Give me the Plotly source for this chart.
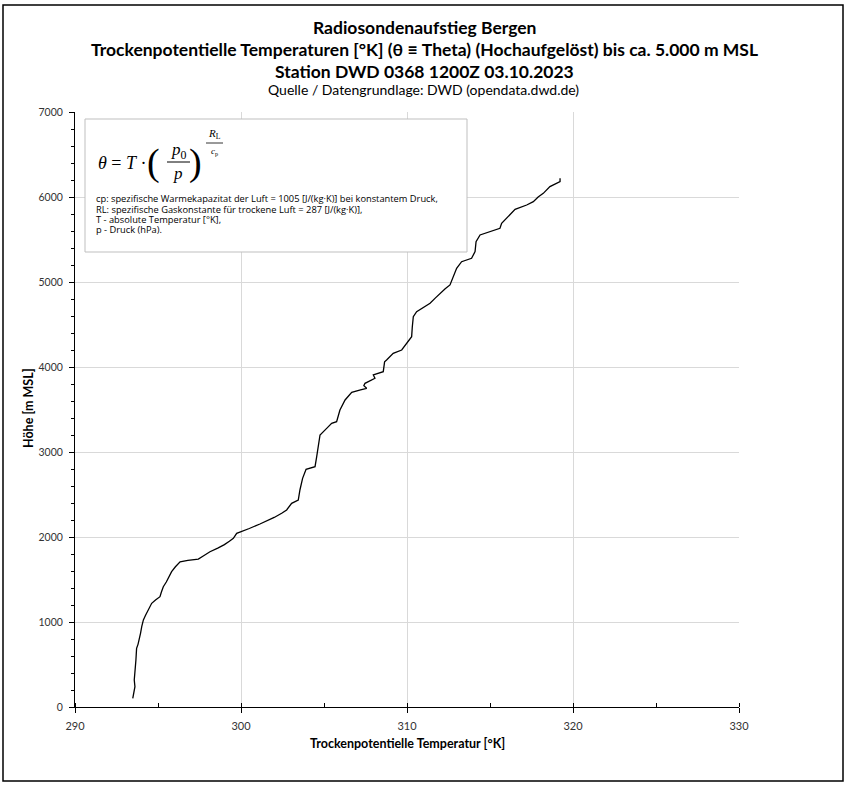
import plotly.graph_objects as go

# ---- data ----
hoehe_m = [102, 160, 239, 318, 400, 480, 553, 620, 690, 740, 788, 870, 945, 1024, 1080,
           1141, 1220, 1260, 1298, 1350, 1415, 1470, 1514, 1592, 1650, 1709, 1725, 1741,
           1780, 1827, 1870, 1910, 1950, 1984, 2043, 2063, 2100, 2153, 2188, 2230, 2280,
           2318, 2396, 2435, 2553, 2690, 2796, 2827, 2945, 3062, 3200, 3278, 3337, 3357,
           3420, 3494, 3612, 3702, 3730, 3749, 3780, 3808, 3867, 3906, 3945, 4000, 4060,
           4082, 4161, 4200, 4298, 4357, 4474, 4592, 4651, 4700, 4749, 4810, 4867, 4920,
           4965, 5063, 5161, 5239, 5279, 5357, 5474, 5553, 5590, 5632, 5690, 5788, 5855,
           5906, 5945, 6000, 6043, 6122, 6180, 6220]
theta_K = [293.48, 293.55, 293.61, 293.57, 293.62, 293.64, 293.67, 293.69, 293.71, 293.80,
           293.87, 293.95, 294.02, 294.12, 294.25, 294.42, 294.62, 294.85, 295.12, 295.20,
           295.32, 295.50, 295.62, 295.82, 296.05, 296.33, 296.80, 297.43, 297.75, 298.13,
           298.60, 299.00, 299.30, 299.54, 299.74, 300.04, 300.50, 301.14, 301.55, 302.00,
           302.45, 302.75, 303.05, 303.45, 303.55, 303.71, 303.92, 304.46, 304.56, 304.66,
           304.76, 305.16, 305.46, 305.76, 305.85, 305.96, 306.27, 306.67, 307.20, 307.57,
           307.40, 307.47, 308.07, 307.97, 308.57, 308.60, 308.65, 308.77, 309.17, 309.68,
           310.08, 310.28, 310.32, 310.38, 310.58, 311.00, 311.39, 311.70, 311.99, 312.30,
           312.59, 312.79, 312.99, 313.29, 313.89, 314.10, 314.16, 314.40, 315.00, 315.60,
           315.70, 316.20, 316.51, 317.21, 317.61, 317.90, 318.21, 318.61, 319.22, 319.22]

x_range = [290, 330]
y_range = [0, 7000]

title_lines = ["Radiosondenaufstieg Bergen",
               "Trockenpotentielle Temperaturen [°K] (θ ≡ Theta) (Hochaufgelöst) bis ca. 5.000 m MSL",
               "Station DWD 0368 1200Z 03.10.2023"]
subtitle = "Quelle / Datengrundlage: DWD (opendata.dwd.de)"
x_title = "Trockenpotentielle Temperatur [°K]"
y_title = "Höhe [m MSL]"
info_lines = ["cp: spezifische Warmekapazitat der Luft = 1005 [J/(kg·K)] bei konstantem Druck,",
              "RL: spezifische Gaskonstante für trockene Luft = 287 [J/(kg·K)],",
              "T - absolute Temperatur [°K],",
              "p - Druck (hPa)."]

# ---- layout geometry ----
W, H = 847, 785
L, R, T, B = 75, 739, 112, 707   # plot area in pixels


def px(x):
    return (x - L) / (R - L)


def py(y):
    return (B - y) / (B - T)


FONT = "Lato"
SERIF = "Liberation Serif"


def note(text, x, y, size, family=FONT, xanchor="center", **kw):
    return dict(text=text, x=px(x), y=py(y), xref="paper", yref="paper",
                xanchor=xanchor, yanchor="middle", showarrow=False,
                font=dict(family=family, size=size, color="black"), **kw)


fig = go.Figure()
fig.add_trace(go.Scatter(x=theta_K, y=hoehe_m, mode="lines",
                         line=dict(color="black", width=1.3), showlegend=False,
                         hoverinfo="skip"))

ann = []
for t, yy in zip(title_lines, [27, 50, 71]):
    ann.append(note("<b>" + t + "</b>", 424, yy, 17.5))
ann.append(note(subtitle, 423, 90, 14))
ann.append(note("<b>" + x_title + "</b>", 407, 743, 12.5))
ann.append(note("<b>" + y_title + "</b>", 28, 408, 12.5, textangle=-90))

# formula
ann.append(note("<i>θ</i> = <i>T</i> ·", 96, 163, 18, SERIF, xanchor="left"))
ann.append(note("(", 153, 162, 38, SERIF))
ann.append(note(")", 195, 162, 38, SERIF))
ann.append(note("<i>p</i><sub>0</sub>", 179, 151, 17, SERIF))
ann.append(note("<i>p</i>", 178, 174, 17, SERIF))
ann.append(note("<i>R</i><sub>L</sub>", 214, 134, 11, SERIF))
ann.append(note("<i>c</i><sub>p</sub>", 214, 151, 9, SERIF))

for line, yy in zip(info_lines, [198, 209, 219, 229]):
    ann.append(note(line, 94, yy, 9.3, "Open Sans", xanchor="left"))

shapes = [
    # info box
    dict(type="rect", xref="paper", yref="paper", x0=px(85), x1=px(467), y0=py(252), y1=py(119),
         line=dict(color="#bfbfbf", width=1), fillcolor="white", layer="above"),
    # fraction lines
    dict(type="line", xref="paper", yref="paper", x0=px(167), x1=px(190), y0=py(162), y1=py(162),
         line=dict(color="black", width=1), layer="above"),
    dict(type="line", xref="paper", yref="paper", x0=px(206), x1=px(223), y0=py(143), y1=py(143),
         line=dict(color="black", width=0.8), layer="above"),
    # chart border
    dict(type="rect", xref="paper", yref="paper", x0=px(3), x1=px(843), y0=py(781), y1=py(5),
         line=dict(color="black", width=1.5), fillcolor="rgba(0,0,0,0)", layer="above"),
]

fig.update_layout(
    width=W, height=H,
    margin=dict(l=L, r=W - R, t=T, b=H - B, pad=0),
    paper_bgcolor="white", plot_bgcolor="white",
    font=dict(family=FONT, color="#333333"),
    annotations=ann, shapes=shapes, showlegend=False,
)
fig.update_xaxes(range=x_range, dtick=10, tick0=290, showgrid=True, gridcolor="#d9d9d9",
                 gridwidth=1, zeroline=False, showline=True, linecolor="black", linewidth=1,
                 ticks="outside", ticklen=5, tickcolor="black", tickfont=dict(size=11, color="#333333"),
                 minor=dict(dtick=5, ticks="inside", ticklen=4, tickcolor="black", showgrid=False),
                 ticklabelstandoff=4)
fig.update_yaxes(range=y_range, dtick=1000, tick0=0, showgrid=True, gridcolor="#d9d9d9",
                 gridwidth=1, zeroline=False, showline=True, linecolor="black", linewidth=1,
                 ticks="outside", ticklen=5, tickcolor="black", tickfont=dict(size=10.5, color="#333333"),
                 minor=dict(dtick=200, ticks="outside", ticklen=3, tickcolor="black", showgrid=False),
                 ticklabelstandoff=4)

fig.write_html("out.html", config={"displayModeBar": False},
               post_script="document.body.style.margin='0';document.body.style.overflow='hidden';")
